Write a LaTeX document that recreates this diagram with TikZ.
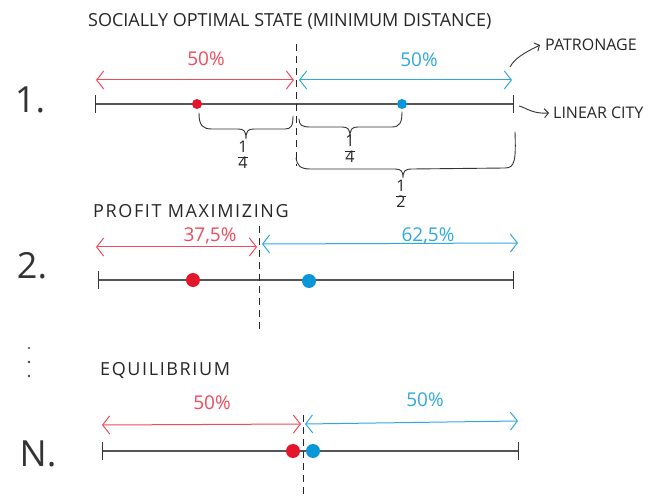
\documentclass[tikz,border=0pt]{standalone}
\usepackage{fontspec}
\setmainfont{Open Sans}
\usetikzlibrary{arrows.meta}
\definecolor{redln}{HTML}{EE4B5B}
\definecolor{reddot}{HTML}{E3162B}
\definecolor{blueln}{HTML}{2FA8DF}
\definecolor{bluedot}{HTML}{0A97D8}
\definecolor{inkgray}{HTML}{555555}
\newcommand{\fracstack}[2]{{\def\arraystretch{0.85}\begin{tabular}{@{}c@{}}#1\\\hline #2\end{tabular}}}
\tikzset{
  city/.style={draw=inkgray, line width=1.1pt},
  tickmark/.style={draw=black!80, line width=0.9pt},
  divider/.style={draw=black!85, line width=0.9pt, dash pattern=on 7pt off 5pt},
  share/.style={line width=1pt, {Straight Barb[length=7pt,width=18pt]}-{Straight Barb[length=7pt,width=18pt]}},
  redshare/.style={share, draw=redln},
  blueshare/.style={share, draw=blueln},
  firm/.style={circle, inner sep=0pt, minimum size=#1},
  firm/.default=10pt,
  heading/.style={font=\fontsize{18}{20}\selectfont, text=black!85, inner sep=0pt},
  wideheading/.style={heading, font=\fontsize{18}{20}\selectfont\addfontfeature{LetterSpace=9}},
  pct/.style={font=\fontsize{19}{21}\selectfont, inner sep=0pt},
  num/.style={font=\fontsize{36}{40}\selectfont, text=black!80, inner sep=0pt},
  note/.style={font=\fontsize{16}{18}\selectfont, text=black!85, inner sep=0pt},
  brc/.style={draw=black!80, line width=0.9pt, line cap=round, line join=round},
  frac/.style={font=\fontsize{16}{17}\selectfont, text=black!85, inner sep=0pt},
  pointer/.style={draw=black!80, line width=0.9pt, -{Straight Barb[length=4pt,width=9pt]}},
}
\begin{document}
\begin{tikzpicture}[x=1pt,y=-1pt]
\useasboundingbox (0,0) rectangle (670,497);

% ---------- 1. socially optimal state ----------
\node[heading, anchor=west] (t1) at (88,21) {SOCIALLY OPTIMAL STATE (MINIMUM DISTANCE)};
\node[num] (n1) at (30,100) {1.};
\coordinate (a1) at (95,104);
\coordinate (b1) at (513,104);
\draw[city] (a1) -- (b1);
\draw[tickmark] ([yshift=-9pt]a1) -- ([yshift=9pt]a1);
\draw[tickmark] ([yshift=-9pt]b1) -- ([yshift=9pt]b1);
\coordinate (m1top) at (296,44);
\coordinate (m1bot) at (296,166);
\draw[divider] (m1top) -- (m1bot);
\coordinate (l1) at (96,80);
\coordinate (c1l) at (294,80);
\coordinate (c1r) at (299,80);
\coordinate (r1) at (512,80);
\draw[redshare] (l1) -- (c1l);
\draw[blueshare] (c1r) -- (r1);
\node[pct, text=redln] (p1a) at (206,59) {50\%};
\node[pct, text=blueln] (p1b) at (419,60) {50\%};
\node[firm, fill=reddot] (f1a) at (197,104) {};
\node[firm, fill=bluedot] (f1b) at (402,104) {};

% braces under the city
\draw[brc] (199,113) .. controls (199,126) and (203,129) .. (212,129) -- (238,129)
  .. controls (244,129) and (246,131) .. (246,139)
  .. controls (246,131) and (248,129) .. (254,129) -- (285,129)
  .. controls (291,129) and (293,126) .. (293,116);
\draw[brc] (299,119) .. controls (299,125) and (302,127) .. (310,127) -- (342,127)
  .. controls (348,127) and (350,129) .. (350,137)
  .. controls (350,129) and (352,127) .. (358,127) -- (392,127)
  .. controls (400,127) and (402,122) .. (402,112);
\draw[brc] (296,158) .. controls (297,165) and (300,169) .. (310,169) -- (395,169)
  .. controls (401,169) and (403,171) .. (403,178)
  .. controls (403,171) and (405,169) .. (412,169) -- (505,168)
  .. controls (515,168) and (516,160) .. (515,132);
\node[frac] (q1) at (243,157) {\fracstack{1}{4}};
\node[frac] (q2) at (350,151) {\fracstack{1}{4}};
\node[frac] (q3) at (401,196) {\fracstack{1}{2}};

% side notes
\node[note, anchor=west] (patr) at (545,45) {PATRONAGE};
\node[note, anchor=west] (lin) at (553,113) {LINEAR CITY};
\coordinate (pa) at (510,67);
\coordinate (la) at (519,106);
\draw[pointer] (pa) .. controls (515,58) and (524,53) .. ([xshift=-5pt]patr.west);
\draw[pointer] (la) .. controls (527,108) and (532,114) .. ([xshift=-4pt]lin.west);

% ---------- 2. profit maximizing ----------
\node[wideheading, anchor=west] (t2) at (93,211) {PROFIT MAXIMIZING};
\node[num] (n2) at (32,266) {2.};
\coordinate (a2) at (98,280);
\coordinate (b2) at (513,280);
\draw[city] (a2) -- (b2);
\draw[tickmark] ([yshift=-9pt]a2) -- ([yshift=9pt]a2);
\draw[tickmark] ([yshift=-9pt]b2) -- ([yshift=9pt]b2);
\coordinate (m2top) at (259,226);
\coordinate (m2bot) at (259,330);
\draw[divider] (m2top) -- (m2bot);
\coordinate (l2) at (96,247);
\coordinate (c2l) at (257,247);
\coordinate (c2r) at (262,244);
\coordinate (r2) at (518,243);
\draw[redshare] (l2) -- (c2l);
\draw[blueshare] (c2r) -- (r2);
\node[pct, text=redln] (p2a) at (210,236) {37,5\%};
\node[pct, text=blueln] (p2b) at (428,236) {62,5\%};
\node[firm=14pt, fill=reddot] (f2a) at (193,280) {};
\node[firm=14pt, fill=bluedot] (f2b) at (309,281) {};

% ---------- continuation ----------
\fill[black!75] (29,348) circle (1.1pt) (29,362) circle (1.4pt) (29,376) circle (1.4pt);

% ---------- N. equilibrium ----------
\node[wideheading, anchor=west] (t3) at (100,371) {EQUILIBRIUM};
\node[num] (n3) at (38,454) {N.};
\coordinate (a3) at (102,451);
\coordinate (b3) at (518,451);
\draw[city] (a3) -- (b3);
\draw[tickmark] ([yshift=-9pt]a3) -- ([yshift=9pt]a3);
\draw[tickmark] ([yshift=-9pt]b3) -- ([yshift=9pt]b3);
\coordinate (m3top) at (303,415);
\coordinate (m3bot) at (303,497);
\draw[divider] (m3top) -- (m3bot);
\coordinate (l3) at (102,425);
\coordinate (c3l) at (301,424);
\coordinate (c3r) at (305,424);
\coordinate (r3) at (518,421);
\draw[redshare] (l3) -- (c3l);
\draw[blueshare] (c3r) -- (r3);
\node[pct, text=redln] (p3a) at (212,403) {50\%};
\node[pct, text=blueln] (p3b) at (425,400) {50\%};
\node[firm=14pt, fill=reddot] (f3a) at (293,451) {};
\node[firm=14pt, fill=bluedot] (f3b) at (313,451) {};
\end{tikzpicture}
\end{document}
